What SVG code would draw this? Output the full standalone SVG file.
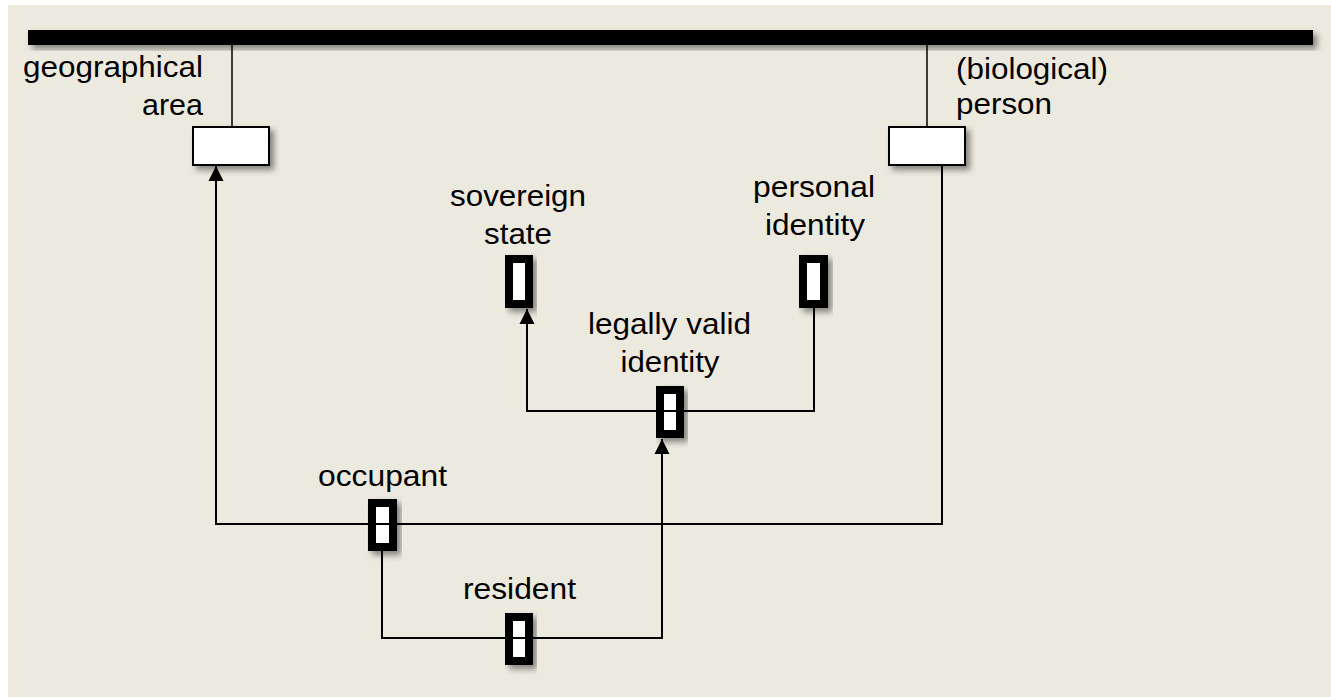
<svg xmlns="http://www.w3.org/2000/svg" width="1331" height="697" viewBox="0 0 1331 697">
<defs>
<filter id="sh" x="-20%" y="-20%" width="160%" height="160%">
<feDropShadow dx="4" dy="4" stdDeviation="3" flood-color="#000" flood-opacity="0.45"/>
</filter>
<marker id="arr" markerUnits="userSpaceOnUse" markerWidth="16" markerHeight="16" viewBox="0 0 16 16" refX="15" refY="8" orient="auto">
<path d="M0,0.5 L15,8 L0,15.5 Z" fill="#000"/>
</marker>
</defs>
<style>
text{font-family:"Liberation Sans",Arial,sans-serif;font-size:30px;fill:#000}
.box{fill:#fff;stroke:#000;stroke-width:2;filter:url(#sh)}
.small{fill:#fff;stroke:#000;stroke-width:8;filter:url(#sh)}
.ln{fill:none;stroke:#000;stroke-width:2}
.thin{fill:none;stroke:#000;stroke-width:1.5}
</style>
<rect x="8" y="5" width="1323" height="692" fill="#ECE9DF"/>
<g id="universe">
<rect x="28" y="30" width="1285" height="15" fill="#000" filter="url(#sh)"/>
</g>
<g id="geographical-area">
<rect class="box" x="193" y="127" width="76" height="38"/>
<text x="203" y="77" text-anchor="end" textLength="180" lengthAdjust="spacingAndGlyphs">geographical</text>
<text x="203" y="115" text-anchor="end" textLength="61" lengthAdjust="spacingAndGlyphs">area</text>
</g>
<g id="biological-person">
<rect class="box" x="889" y="127" width="76" height="38"/>
<text x="956" y="79" textLength="152" lengthAdjust="spacingAndGlyphs">(biological)</text>
<text x="956" y="114" textLength="96" lengthAdjust="spacingAndGlyphs">person</text>
</g>
<g id="sovereign-state">
<rect class="small" x="509" y="259" width="20" height="45"/>
<text x="518" y="206" text-anchor="middle" textLength="136" lengthAdjust="spacingAndGlyphs">sovereign</text>
<text x="518" y="244" text-anchor="middle" textLength="68" lengthAdjust="spacingAndGlyphs">state</text>
</g>
<g id="personal-identity">
<rect class="small" x="803" y="259" width="21" height="45"/>
<text x="814" y="197" text-anchor="middle" textLength="122" lengthAdjust="spacingAndGlyphs">personal</text>
<text x="815" y="235" text-anchor="middle" textLength="100" lengthAdjust="spacingAndGlyphs">identity</text>
</g>
<g id="legally-valid-identity">
<rect class="small" x="660" y="390" width="20" height="44"/>
<text x="669.5" y="334" text-anchor="middle" textLength="163" lengthAdjust="spacingAndGlyphs">legally valid</text>
<text x="670" y="372" text-anchor="middle" textLength="99" lengthAdjust="spacingAndGlyphs">identity</text>
</g>
<g id="occupant">
<rect class="small" x="372" y="503" width="21" height="44"/>
<text x="382.5" y="486" text-anchor="middle" textLength="129" lengthAdjust="spacingAndGlyphs">occupant</text>
</g>
<g id="resident">
<rect class="small" x="509" y="617" width="20" height="44"/>
<text x="519.5" y="599" text-anchor="middle" textLength="113" lengthAdjust="spacingAndGlyphs">resident</text>
</g>
<g id="connectors">
<path class="thin" d="M232,45 V127"/>
<path class="thin" d="M927,45 V127"/>
<path class="ln" d="M942,165 V524 H216 V166" marker-end="url(#arr)"/>
<path class="ln" d="M382,551 V638 H662 V439" marker-end="url(#arr)"/>
<path class="ln" d="M814,308 V411 H527 V309" marker-end="url(#arr)"/>
</g>
</svg>
